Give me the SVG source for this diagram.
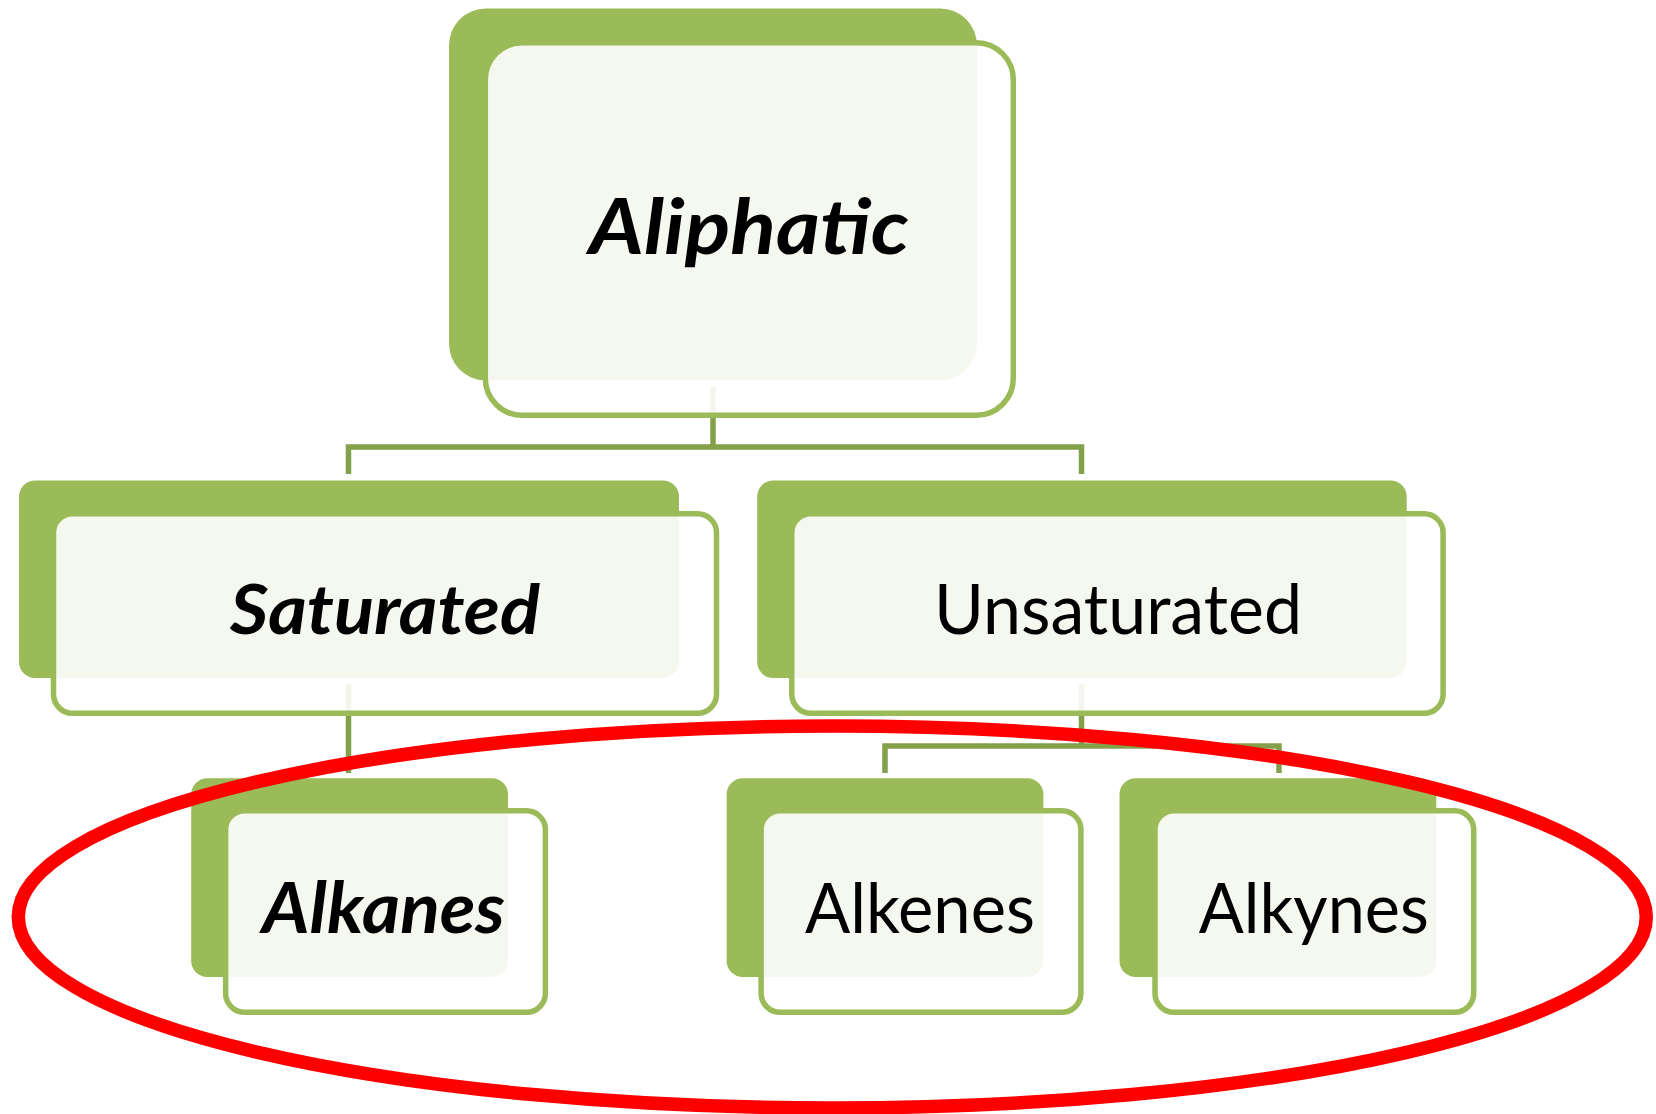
<svg xmlns="http://www.w3.org/2000/svg" width="1656" height="1114" viewBox="0 0 1656 1114">
<style>
.back{fill:#9BBB59;}
.front{fill:#ffffff;fill-opacity:0.9;stroke:#9BBB59;stroke-width:5.5;}
.conn{fill:none;stroke:#84A04B;stroke-width:5.5;}
.lbl{font-family:Lato,"Open Sans","Liberation Sans",sans-serif;fill:#000;text-anchor:middle;}
.bi{font-weight:bold;font-style:italic;}
.ring{fill:none;stroke:#FF0000;stroke-width:13.5;}
</style>
<rect width="1656" height="1114" fill="#ffffff"/>
<g id="connectors">
<path class="conn" d="M713 387V447M348.5 474V447H1081.5V474"/>
<path class="conn" d="M348.5 684V773"/>
<path class="conn" d="M1081.5 684V746M885 773V746H1279V773"/>
</g>
<g id="node-aliphatic">
<rect class="back" x="449" y="8.5" width="528" height="372" rx="37"/>
<rect class="front" x="485.3" y="42.8" width="528" height="372.5" rx="37"/>
<text class="lbl bi" x="749" y="253.5" font-size="76" textLength="320" lengthAdjust="spacingAndGlyphs">Aliphatic</text>
</g>
<g id="node-saturated">
<rect class="back" x="19" y="480.5" width="660" height="197.5" rx="16"/>
<rect class="front" x="53.5" y="513.8" width="663" height="199.5" rx="19"/>
<text class="lbl bi" x="385" y="633.7" font-size="69" textLength="310" lengthAdjust="spacingAndGlyphs">Saturated</text>
</g>
<g id="node-unsaturated">
<rect class="back" x="757.2" y="480.5" width="649.5" height="197.5" rx="16"/>
<rect class="front" x="791.8" y="513.8" width="651.3" height="199.5" rx="19"/>
<text class="lbl" x="1118" y="633.7" font-size="69" textLength="368" lengthAdjust="spacingAndGlyphs">Unsaturated</text>
</g>
<g id="node-alkanes">
<rect class="back" x="191.2" y="778.3" width="316.8" height="198.6" rx="16"/>
<rect class="front" x="225.6" y="810.8" width="319.8" height="201.5" rx="19"/>
<text class="lbl bi" x="383.5" y="932.5" font-size="70" textLength="243" lengthAdjust="spacingAndGlyphs">Alkanes</text>
</g>
<g id="node-alkenes">
<rect class="back" x="726.6" y="778.3" width="316.8" height="198.6" rx="16"/>
<rect class="front" x="761.1" y="810.8" width="319.8" height="201.5" rx="19"/>
<text class="lbl" x="920" y="932.5" font-size="70" textLength="230" lengthAdjust="spacingAndGlyphs">Alkenes</text>
</g>
<g id="node-alkynes">
<rect class="back" x="1119.5" y="778.3" width="316.8" height="198.6" rx="16"/>
<rect class="front" x="1155" y="810.8" width="318.7" height="201.5" rx="19"/>
<text class="lbl" x="1313.8" y="932.5" font-size="70" textLength="230" lengthAdjust="spacingAndGlyphs">Alkynes</text>
</g>
<ellipse class="ring" cx="832.3" cy="917" rx="814" ry="191"/>
</svg>
